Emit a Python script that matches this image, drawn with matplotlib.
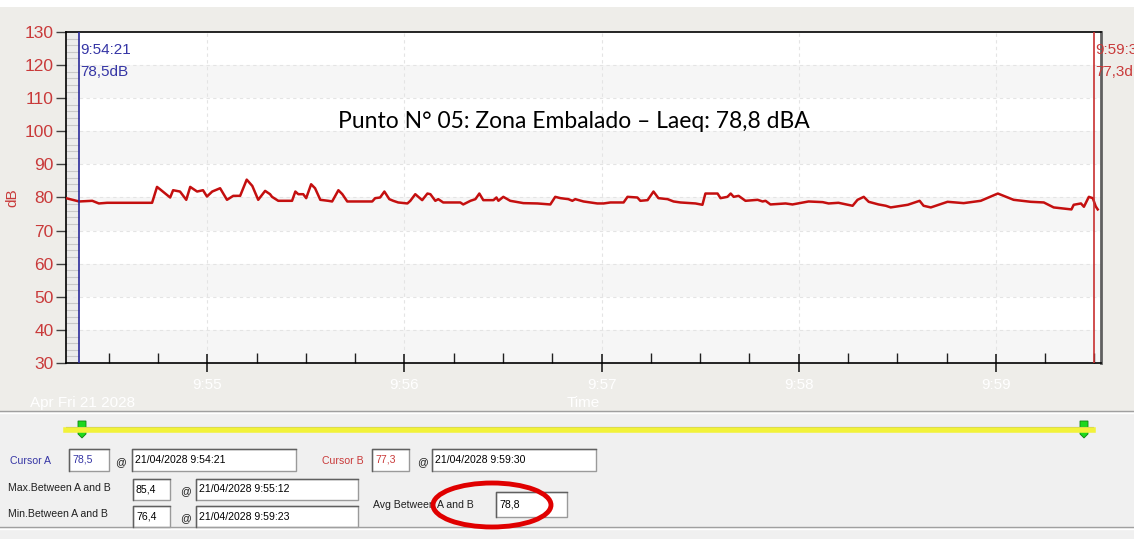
import matplotlib
matplotlib.use("Agg")
import matplotlib.pyplot as plt
from matplotlib.patches import Rectangle, Ellipse, Polygon
from matplotlib.ticker import MultipleLocator, FixedLocator

# data: seconds after 9:54:00, level in dB
t_sec = [17, 19, 21, 25, 27, 29.5, 42.6, 43.2, 44.7, 45.6, 48.7, 49.6, 51.7, 53.6,
         54.8, 56.9, 58.7, 59.9, 61.5, 63.9, 66.0, 67.9, 70.0, 72.0, 73.7, 75.5,
         77.6, 79.1, 79.7, 81.6, 85.8, 86.8, 87.7, 89.2, 90.1, 91.6, 92.8, 94.4,
         96.8, 98.0, 99.9, 101.1, 102.6, 110.2, 111.1, 112.6, 113.9, 115.4, 116.6,
         118.1, 120.9, 121.8, 123.3, 125.4, 127.0, 127.9, 129.4, 130.3, 131.8,
         137.0, 137.9, 140.1, 141.6, 142.8, 144.0, 147.1, 148.0, 148.6, 150.1,
         152.2, 156.2, 160.5, 164.4, 165.9, 167.5, 169.9, 171.1, 172.0, 174.5,
         178.7, 180.6, 182.7, 186.7, 187.9, 190.9, 191.8, 194.0, 195.8, 197.3,
         200.1, 201.9, 204.0, 208.6, 210.7, 211.6, 215.3, 216.2, 218.3, 219.3,
         220.2, 221.7, 223.8, 227.5, 229.0, 229.9, 231.4, 236.0, 238.1, 243.0,
         247.3, 249.1, 252.1, 256.4, 257.9, 259.8, 261.3, 264.3, 266.5, 268.0,
         273.2, 276.8, 278.0, 280.2, 285.3, 290.2, 295.4, 300.6, 305.4, 310.6,
         314.6, 317.6, 323.0, 323.7, 325.9, 326.8, 328.3, 329.5, 330.4, 331.0]
db = [79.8, 79.3, 78.8, 79.0, 78.2, 78.4, 78.4, 78.4, 83.2, 82.5, 80.0, 82.2, 81.8, 79.3,
      83.2, 81.8, 82.2, 80.3, 81.8, 82.8, 79.3, 80.5, 80.5, 85.4, 83.5, 79.3,
      82.0, 81.0, 80.2, 79.0, 79.0, 81.8, 81.0, 81.0, 79.8, 84.0, 82.8, 79.3,
      79.0, 78.8, 82.2, 81.0, 78.8, 78.8, 79.8, 80.0, 81.8, 79.5, 79.0,
      78.5, 78.2, 79.0, 81.0, 79.2, 81.2, 81.0, 79.0, 79.5, 78.5,
      78.5, 77.9, 79.0, 79.5, 81.2, 79.2, 79.2, 80.0, 79.0, 80.2,
      79.0, 78.3, 78.2, 77.9, 80.2, 79.8, 79.5, 79.0, 79.5, 78.8,
      78.2, 78.2, 78.5, 78.5, 80.2, 80.0, 79.0, 79.2, 81.8, 79.8,
      79.5, 78.8, 78.5, 78.2, 77.8, 81.2, 81.2, 79.8, 80.2, 81.2,
      80.2, 80.5, 79.0, 79.3, 78.8, 79.0, 77.9, 78.2, 77.9, 78.8,
      78.6, 78.2, 78.4, 77.5, 79.3, 80.2, 78.7, 77.9, 77.5, 77.0,
      77.8, 79.0, 77.5, 77.0, 78.7, 78.3, 79.0, 81.2, 79.3, 78.7,
      78.5, 77.0, 76.4, 77.8, 78.2, 77.2, 80.2, 79.8, 77.3, 76.4]

t_min, t_max = 17, 332
minute_ticks = [60, 120, 180, 240, 300]
minute_labels = ['9:55', '9:56', '9:57', '9:58', '9:59']

cursor_a_t, cursor_a_val, cursor_a_time = 21, 78.5, '9:54:21'
cursor_b_t, cursor_b_val, cursor_b_time = 330, 77.3, '9:59:30'
date_str = '21/04/2028'
max_val, max_time = 85.4, '9:55:12'
min_val, min_time = 76.4, '9:59:23'
avg_val = 78.8

def fmt(v):
    return ('%.1f' % v).replace('.', ',')

W, H = 1134, 539
red_txt = '#c93a3a'
blue_txt = '#3535a5'

fig = plt.figure(figsize=(W / 100, H / 100), dpi=100, facecolor='#eeede9')

# background / UI layer in pixel coords
ui = fig.add_axes([0, 0, 1, 1])
ui.set_xlim(0, W)
ui.set_ylim(H, 0)
ui.axis('off')
ui.add_patch(Rectangle((0, 0), W, 7, color='white', lw=0))
ui.add_patch(Rectangle((0, 412), W, H - 412, color='#f0f0f0', lw=0))
ui.plot([0, W], [411, 411], color='#a0a0a0', lw=1)
ui.plot([0, W], [413, 413], color='white', lw=1)
ui.plot([0, W], [527, 527], color='#a0a0a0', lw=1)
ui.plot([0, W], [529, 529], color='white', lw=1)

# slider
ui.plot([66, 1093], [427, 427], color='#909090', lw=0.8)
ui.plot([66, 1093], [429.5, 429.5], color='#f2f23a', lw=4)
for mx in (82, 1084):
    ui.add_patch(Polygon([[mx - 4, 421], [mx + 4, 421], [mx + 4, 434], [mx, 438], [mx - 4, 434]],
                         closed=True, facecolor='#1ed81e', edgecolor='#108010', lw=0.6))

ui_font = 'Liberation Sans'
ui_size = 7.6

def box(x0, y0, x1, y1, txt, color='black'):
    ui.add_patch(Rectangle((x0, y0), x1 - x0, y1 - y0, facecolor='white', edgecolor='#9a9a9a', lw=1))
    ui.plot([x0, x0, x1], [y1, y0, y0], color='#606060', lw=1)
    ui.text(x0 + 3, (y0 + y1) / 2, txt, fontsize=ui_size, color=color, va='center', ha='left', family=ui_font)

def label(x, y, txt, color='#202020'):
    ui.text(x, y, txt, fontsize=ui_size, color=color, va='center', ha='left', family=ui_font)

label(10, 461, 'Cursor A', blue_txt)
box(69, 449, 109, 471, fmt(cursor_a_val), blue_txt)
label(115, 462, '@')
box(132, 449, 296, 471, date_str + ' ' + cursor_a_time)

label(322, 461, 'Cursor B', red_txt)
box(372, 449, 409, 471, fmt(cursor_b_val), red_txt)
label(417, 462, '@')
box(432, 449, 596, 471, date_str + ' ' + cursor_b_time)

label(8, 488, 'Max.Between A and B')
box(133, 479, 170, 500, fmt(max_val))
label(180, 491, '@')
box(196, 479, 358, 500, date_str + ' ' + max_time)

label(8, 514, 'Min.Between A and B')
box(133, 506, 170, 527, fmt(min_val))
label(180, 518, '@')
box(196, 506, 358, 527, date_str + ' ' + min_time)

label(373, 505, 'Avg Between A and B')
box(496, 492, 567, 517, fmt(avg_val))
ui.add_patch(Ellipse((492, 505), 118, 44, fill=False, edgecolor='#e00000', lw=3.5, zorder=5))

# main chart
ax = fig.add_axes([66 / W, 1 - 363 / H, 1035 / W, 331 / H])
ax.set_facecolor('white')
ax.set_xlim(t_min, t_max)
ax.set_ylim(30, 130)

for lo in range(30, 130, 20):
    ax.axhspan(lo, lo + 10, color='#f6f6f6', lw=0, zorder=0)
ax.axvspan(t_min, cursor_a_t, color='#ececec', lw=0, zorder=0.5)
for y in range(40, 130, 10):
    ax.axhline(y, color='#e4e4e4', lw=0.8, ls=(0, (3, 3)), zorder=0.6)
for x in minute_ticks:
    ax.axvline(x, color='#e4e4e4', lw=0.8, ls=(0, (3, 3)), zorder=0.6)

ax.plot(t_sec, db, color='#c40f0f', lw=1.8, zorder=3)

ax.axvline(cursor_a_t, color='#2a2a9a', lw=1.2, zorder=4)
ax.axvline(cursor_b_t, color='#c83030', lw=1.2, zorder=4)
ax.text(cursor_a_t + 0.2, 124.6, cursor_a_time, color=blue_txt, fontsize=11, va='center', ha='left',
        family='Liberation Sans', zorder=5)
ax.text(cursor_a_t + 0.2, 117.8, fmt(cursor_a_val) + 'dB', color=blue_txt, fontsize=11, va='center',
        ha='left', family='Liberation Sans', zorder=5)
# cursor B readout runs past the right edge, as in the original window
ax.text(cursor_b_t + 0.2, 124.6, cursor_b_time, color=red_txt, fontsize=11, va='center', ha='left',
        family='Liberation Sans', clip_on=False, zorder=5)
ax.text(cursor_b_t + 0.2, 117.8, fmt(cursor_b_val) + 'dB', color=red_txt, fontsize=11, va='center',
        ha='left', family='Liberation Sans', clip_on=False, zorder=5)

ax.text(0.491, 0.73, 'Punto N° 05: Zona Embalado – Laeq: ' + fmt(avg_val) + ' dBA', transform=ax.transAxes,
        fontsize=16.5, family='Lato', ha='center', va='center', color='black')

# axes styling
ax.yaxis.set_major_locator(MultipleLocator(10))
ax.yaxis.set_minor_locator(MultipleLocator(2))
ax.tick_params(axis='y', which='major', direction='out', length=7, width=1, color='#404040',
               labelcolor=red_txt, labelsize=12.5, pad=2)
ax.tick_params(axis='y', which='minor', direction='in', length=9, width=0.8, color='#c8c8c8')
for lab in ax.get_yticklabels():
    lab.set_family('Liberation Sans')
ax.xaxis.set_major_locator(FixedLocator(minute_ticks))
ax.xaxis.set_minor_locator(MultipleLocator(15))
ax.set_xticklabels(minute_labels, color='white', fontsize=11, family='Liberation Sans')
ax.tick_params(axis='x', which='major', direction='inout', length=13, width=1.2, color='#202020', pad=4)
ax.tick_params(axis='x', which='minor', direction='in', length=7, width=1, color='#202020')
ax.set_ylabel('dB', color=red_txt, fontsize=11, family='Liberation Sans', labelpad=4)

for s in ('left', 'bottom', 'top'):
    ax.spines[s].set_color('black')
    ax.spines[s].set_linewidth(1.2)
ax.spines['right'].set_color('#606060')
ax.spines['right'].set_linewidth(2)

fig.text(83 / W, 1 - 403 / H, 'Apr Fri 21 2028', color='white', fontsize=11, ha='center', va='center',
         family='Liberation Sans')
fig.text(583 / W, 1 - 403 / H, 'Time', color='white', fontsize=11, ha='center', va='center',
         family='Liberation Sans')

fig.savefig('out.png', dpi=100, facecolor=fig.get_facecolor())
